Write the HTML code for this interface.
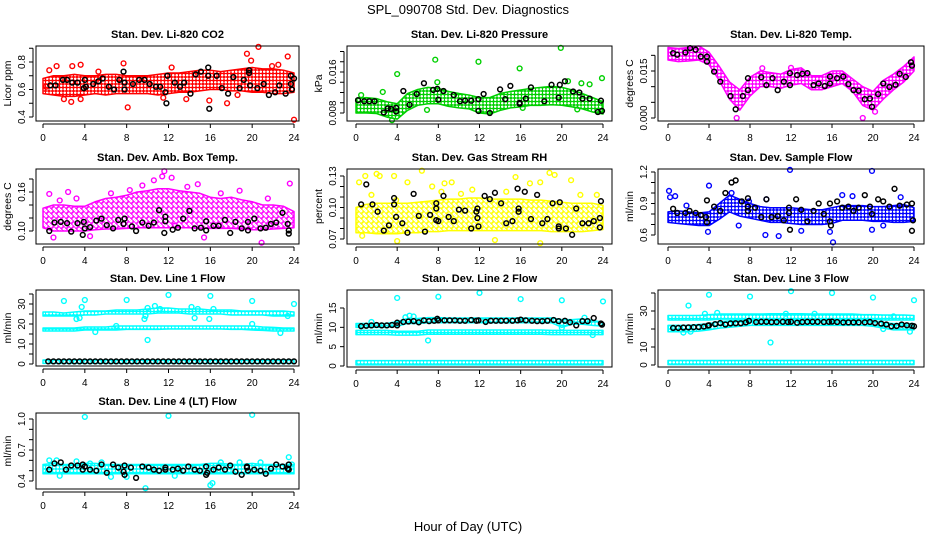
<!DOCTYPE html>
<html><head><meta charset="utf-8">
<style>
html,body{margin:0;padding:0;background:#fff;}
svg{display:block;font-family:"Liberation Sans",Arial,sans-serif;}
</style></head>
<body>
<svg id="chart" width="936" height="540" viewBox="0 0 936 540" xmlns="http://www.w3.org/2000/svg">
<defs id="defs"></defs>
<text x="468" y="14" text-anchor="middle" font-size="13">SPL_090708  Std. Dev. Diagnostics</text>
<text x="468" y="531" text-anchor="middle" font-size="13">Hour of Day (UTC)</text>
</svg>
<script>
// ---------- shared data ----------
const HOURS=[0,1,2,3,4,5,6,7,8,9,10,11,12,13,14,15,16,17,18,19,20,21,22,23,24];
const X_TICKS=[0,4,8,12,16,20,24];

// CO2
const co2Lo=[0.57,0.56,0.55,0.55,0.56,0.57,0.56,0.57,0.57,0.57,0.57,0.56,0.57,0.58,0.58,0.59,0.60,0.60,0.59,0.59,0.58,0.58,0.57,0.57,0.58];
const co2Hi=[0.68,0.70,0.70,0.71,0.70,0.70,0.71,0.71,0.70,0.70,0.70,0.71,0.72,0.72,0.73,0.74,0.74,0.73,0.74,0.75,0.76,0.75,0.75,0.74,0.72];
const co2OutX=[0.6,1.3,2.8,3.6,7.7,8.1,2.7,3.6,15.9,19.5,20.6,19.9,23.4,24,17.6,22.5,12.3,5.3,13.7,21.9,0.3,2.0,11.5,18.6];
const co2OutY=[0.74,0.77,0.77,0.78,0.79,0.47,0.51,0.53,0.52,0.86,0.91,0.81,0.84,0.38,0.50,0.78,0.76,0.73,0.53,0.77,0.62,0.53,0.54,0.56];
const co2BlkX=[0.7,1.2,1.9,2.3,2.8,3.3,3.9,4.0,4.1,4.8,5.3,5.7,6.3,6.8,7.3,7.7,7.8,7.8,8.6,9.2,9.7,10.2,10.8,11.2,11.7,11.8,11.9,12.6,13.1,13.5,14.1,14.6,15.1,15.8,15.8,15.9,16.6,17.1,17.7,18.2,18.8,19.2,19.7,19.7,19.8,20.5,21.1,21.6,22.2,22.6,23.2,23.7,23.7,23.8,24.0];
const co2BlkY=[0.63,0.63,0.67,0.67,0.65,0.65,0.61,0.67,0.62,0.64,0.66,0.68,0.62,0.60,0.67,0.73,0.65,0.60,0.64,0.67,0.67,0.64,0.62,0.62,0.58,0.50,0.70,0.65,0.62,0.65,0.57,0.71,0.73,0.76,0.70,0.46,0.70,0.61,0.57,0.69,0.61,0.67,0.74,0.72,0.63,0.61,0.64,0.56,0.58,0.63,0.57,0.70,0.64,0.60,0.68];

// Pressure
const presLo=[0.0080,0.0080,0.0079,0.0072,0.0068,0.0085,0.0095,0.0098,0.0098,0.0093,0.0090,0.0088,0.0080,0.0078,0.0085,0.0090,0.0092,0.0095,0.0095,0.0096,0.0095,0.0092,0.0088,0.0082,0.0078];
const presHi=[0.0108,0.0110,0.0108,0.0102,0.0098,0.0118,0.0126,0.0130,0.0128,0.0122,0.0118,0.0115,0.0110,0.0110,0.0118,0.0122,0.0125,0.0128,0.0130,0.0132,0.0130,0.0125,0.0118,0.0110,0.0102];
const presOutX=[7.7,11.9,4.0,15.9,19.9,23.9,2.6,7.9,0.5,3.5,6.9,20.6,21.9,22.7,16.2,21.5];
const presOutY=[0.0184,0.0180,0.0156,0.0167,0.0207,0.0148,0.0121,0.0140,0.0115,0.0066,0.0086,0.0142,0.0138,0.0136,0.0090,0.0087];
const presBlkX=[0.2,0.8,1.3,1.8,2.7,3.1,3.4,3.9,3.9,4.6,5.2,5.9,6.6,7.5,7.9,8.0,8.5,9.5,10.1,10.6,11.2,11.9,11.9,12.4,13.0,14.0,14.5,15.0,15.9,15.9,16.5,17.0,18.3,19.0,19.7,19.8,20.3,21.1,21.7,22.0,22.7,23.5,23.8,23.9];
const presBlkY=[0.0105,0.0103,0.0103,0.0103,0.0081,0.0089,0.0088,0.0090,0.0083,0.0123,0.0096,0.0117,0.0138,0.0125,0.0127,0.0106,0.0123,0.0115,0.0103,0.0104,0.0104,0.0107,0.0084,0.0117,0.0080,0.0126,0.0107,0.0133,0.0100,0.0098,0.0108,0.0130,0.0103,0.0135,0.0110,0.0135,0.0142,0.0122,0.0120,0.0108,0.0108,0.0082,0.0104,0.0084];

// Li-820 temperature
const tempLo=[0.0185,0.0180,0.0182,0.0185,0.0170,0.0120,0.0060,0.0025,0.0070,0.0100,0.0100,0.0095,0.0105,0.0110,0.0090,0.0090,0.0100,0.0110,0.0085,0.0040,0.0025,0.0060,0.0090,0.0115,0.0150];
const tempHi=[0.0225,0.0222,0.0225,0.0230,0.0210,0.0165,0.0115,0.0090,0.0130,0.0150,0.0145,0.0140,0.0155,0.0160,0.0135,0.0135,0.0150,0.0150,0.0125,0.0100,0.0085,0.0120,0.0140,0.0165,0.0195];
const tempOutX=[6.7,19.0,9.2,20.2,12.0];
const tempOutY=[0.0000,0.0000,0.0159,0.0020,0.0160];
const tempBlkX=[0.5,0.9,1.7,2.15,2.7,3.2,3.8,3.8,4.5,5.1,6.1,6.6,7.3,7.8,7.8,9.1,9.6,10.2,10.7,11.3,11.9,11.9,12.6,13.1,13.6,14.2,14.7,15.3,15.8,15.8,16.5,17.1,17.6,18.1,18.6,19.2,19.7,19.9,20.5,21.0,21.6,22.2,22.6,23.2,23.7,23.8];
const tempBlkY=[0.0207,0.0202,0.0209,0.0223,0.0218,0.0196,0.0196,0.0180,0.0148,0.0116,0.0070,0.0028,0.0070,0.0127,0.0089,0.0130,0.0105,0.0127,0.0089,0.0116,0.0143,0.0105,0.0137,0.0141,0.0143,0.0105,0.0110,0.0102,0.0132,0.0110,0.0127,0.0132,0.0108,0.0089,0.0087,0.0060,0.0062,0.0036,0.0076,0.0110,0.0099,0.0106,0.0141,0.0131,0.0178,0.0167];

// Ambient box temperature
const ambLo=[0.105,0.100,0.100,0.100,0.100,0.102,0.103,0.103,0.104,0.105,0.105,0.105,0.105,0.105,0.105,0.104,0.104,0.104,0.104,0.103,0.102,0.102,0.103,0.104,0.105];
const ambHi=[0.135,0.140,0.140,0.138,0.138,0.145,0.150,0.152,0.155,0.160,0.162,0.165,0.165,0.162,0.160,0.158,0.152,0.150,0.152,0.148,0.145,0.140,0.140,0.138,0.130];
const ambOutX=[0.6,2.4,1.6,8.3,9.5,10.6,11.4,11.6,12.3,14.8,18.8,23.6,20.9,15.4,1.0,4.5,12.6,3.2,6.5,17.0,21.5,13.8];
const ambOutY=[0.157,0.160,0.147,0.163,0.170,0.178,0.184,0.192,0.182,0.172,0.162,0.173,0.082,0.090,0.090,0.092,0.108,0.150,0.158,0.158,0.150,0.168];
const ambBlkX=[0.6,1.1,1.7,2.3,2.7,3.3,3.9,3.8,4.0,4.5,5.1,5.6,6.1,6.7,7.2,7.7,7.8,8.5,8.9,9.5,10.1,10.6,11.1,11.7,11.6,11.7,12.4,12.9,13.4,14.0,14.5,15.1,15.6,15.6,16.3,16.8,17.4,17.9,18.4,19.0,19.6,19.6,20.2,20.8,21.3,21.8,22.3,22.9,23.4,23.5,23.5];
const ambBlkY=[0.100,0.113,0.114,0.112,0.099,0.112,0.114,0.094,0.104,0.106,0.116,0.119,0.109,0.104,0.117,0.111,0.119,0.107,0.100,0.113,0.108,0.113,0.132,0.122,0.097,0.115,0.102,0.105,0.119,0.131,0.104,0.105,0.115,0.101,0.108,0.108,0.117,0.097,0.114,0.104,0.114,0.101,0.119,0.104,0.105,0.111,0.113,0.128,0.111,0.101,0.096];

// Gas stream RH
const rhLo=[0.076,0.076,0.075,0.075,0.075,0.076,0.076,0.077,0.077,0.078,0.078,0.078,0.078,0.078,0.078,0.078,0.078,0.078,0.078,0.077,0.077,0.077,0.077,0.078,0.079];
const rhHi=[0.100,0.103,0.104,0.104,0.104,0.104,0.105,0.106,0.107,0.108,0.108,0.109,0.109,0.108,0.108,0.108,0.108,0.107,0.107,0.106,0.105,0.104,0.104,0.104,0.102];
const rhOutX=[0.3,0.9,2.0,2.3,3.7,6.4,5.0,8.6,9.3,7.4,17.9,18.8,19.3,20.9,15.5,16.9,23.4,4.0,13.5,17.9,0.6,3.9,11.3,8.3,1.5,10.2,14.6,21.8];
const rhOutY=[0.124,0.130,0.132,0.130,0.130,0.135,0.124,0.123,0.124,0.120,0.124,0.133,0.131,0.126,0.129,0.123,0.112,0.068,0.069,0.066,0.073,0.107,0.117,0.115,0.112,0.113,0.115,0.112];
const rhBlkX=[1.0,0.5,1.6,2.1,2.7,3.2,3.7,3.7,3.9,4.5,5.0,5.6,6.1,6.7,7.2,7.8,7.8,7.8,8.0,8.5,9.0,9.5,10.0,10.6,11.2,11.7,11.8,11.8,11.9,12.5,13.0,13.5,14.1,14.6,15.2,15.7,15.8,15.8,16.4,17.0,17.6,18.1,18.6,19.1,19.7,19.7,19.8,20.4,21.0,21.4,22.0,22.6,23.1,23.7,23.7,23.8];
const rhBlkY=[0.122,0.103,0.103,0.096,0.078,0.083,0.109,0.103,0.091,0.085,0.076,0.113,0.092,0.077,0.093,0.104,0.099,0.088,0.087,0.111,0.091,0.087,0.098,0.097,0.080,0.096,0.099,0.090,0.082,0.111,0.108,0.114,0.104,0.085,0.087,0.118,0.099,0.096,0.115,0.089,0.112,0.085,0.089,0.104,0.082,0.080,0.105,0.080,0.074,0.099,0.085,0.085,0.087,0.081,0.090,0.106];

// Sample flow
const sfLo=[0.72,0.71,0.70,0.69,0.69,0.75,0.82,0.78,0.76,0.74,0.72,0.72,0.71,0.70,0.70,0.70,0.71,0.74,0.74,0.74,0.73,0.73,0.72,0.72,0.73];
const sfHi=[0.82,0.83,0.82,0.81,0.82,0.90,0.98,0.94,0.90,0.87,0.86,0.86,0.86,0.85,0.84,0.84,0.86,0.88,0.88,0.88,0.87,0.87,0.88,0.89,0.86];
const sfOutX=[0.1,0.2,0.7,1.8,4.0,7.9,9.6,11.9,19.9,17.0,18.0,16.1,9.5,10.8,15.8,19.9,22.7,6.9,6.2,3.9,13.0,21.0];
const sfOutY=[1.02,0.96,0.97,0.88,1.07,0.92,0.94,1.22,1.21,0.98,0.97,0.53,0.60,0.59,0.63,0.65,0.96,0.69,1.00,0.63,0.64,0.69];
const sfBlkX=[0.5,0.9,1.7,2.1,2.7,3.2,3.7,3.8,3.8,4.5,5.1,5.6,6.2,6.6,7.2,7.8,7.8,7.8,8.5,9.1,9.6,10.1,10.7,11.3,11.8,11.8,11.9,12.5,13.0,13.6,14.2,14.7,15.2,15.8,15.8,15.9,16.5,17.0,17.6,18.1,18.6,19.2,19.7,19.9,20.5,21.0,21.6,22.1,22.6,23.3,23.8,23.9,23.8];
const sfBlkY=[0.85,0.81,0.81,0.83,0.81,0.79,0.77,0.72,0.93,0.87,0.83,1.00,1.10,1.12,0.92,0.95,0.87,0.83,0.86,0.77,0.94,0.77,0.78,0.74,0.86,0.81,0.65,0.94,0.84,0.73,0.83,0.90,0.80,0.73,0.90,0.69,0.92,0.86,0.87,0.83,0.86,0.98,0.87,0.80,0.94,0.92,0.87,1.04,0.88,0.89,0.90,0.74,0.64];

// Line 1 flow
const l1TopLo=[24,24,24,24,24.5,24.5,25,25,25,25,25,25.5,25.5,25.5,25,25,25,25,24.5,24.5,24.5,24.5,24,24,24];
const l1TopHi=[26,26,25.5,26,26.5,26.5,26.5,27,27,27,27.5,28,28,27.5,27.5,27.5,27,27,27,26.5,26.5,26.5,26.5,26.5,26];
const l1MidLo=[16.5,16.5,16.5,16.5,17,17,17,17,17.3,17.3,17.3,17.3,17.5,17.5,17.5,17.5,17.5,17.5,17.3,17.3,17,16.8,16.5,16.5,16.5];
const l1MidHi=[18,18,18,18,18.5,18.5,18.5,19,19,19,19,19,19,19,19,19,19,19,19,19,19,18.5,18.3,18,18];
const l1BotLo=[0.3,0.3,0.3,0.3,0.3,0.3,0.3,0.3,0.3,0.3,0.3,0.3,0.3,0.3,0.3,0.3,0.3,0.3,0.3,0.3,0.3,0.3,0.3,0.3,0.3];
const l1BotHi=[2,2,2,2,2,2,2,2,2,2,2,2,2,2,2,2,2,2,2,2,2,2,2,2,2];
const l1OutX=[2.0,4.0,8.0,12.0,16.0,20.0,24.0,3.2,3.5,3.7,9.7,10.0,10.0,10.7,14.5,15.9,16.3,20.0,22.7,5.0,7.0,23.4,9.8,11.2,14.2,14.8];
const l1OutY=[31.5,32,32,34.5,34,31.5,30,22.5,23,28.5,22.5,28,12,29,23,22.5,27.5,20,15.5,16,19,24,24,27.5,28.5,27.5];
const l1BlkX=[0.5,1.0,1.5,2.0,2.5,3.0,3.5,4.0,4.5,5.0,5.5,6.0,6.5,7.0,7.5,8.0,8.5,9.0,9.5,10.0,10.5,11.0,11.5,12.0,12.5,13.0,13.5,14.0,14.5,15.0,15.5,16.0,16.5,17.0,17.5,18.0,18.5,19.0,19.5,20.0,20.5,21.0,21.5,22.0,22.5,23.0,23.5,24.0];
const l1BlkY=[1.3,1.3,1.3,1.3,1.3,1.3,1.3,1.3,1.3,1.3,1.3,1.3,1.3,1.3,1.3,1.3,1.3,1.3,1.3,1.3,1.3,1.3,1.3,1.3,1.3,1.3,1.3,1.3,1.3,1.3,1.3,1.3,1.3,1.3,1.3,1.3,1.3,1.3,1.3,1.3,1.3,1.3,1.3,1.3,1.3,1.3,1.3,1.3];

// Line 2 flow
const l2TopLo=[10,10,10,10,10.3,11,11,11.2,11.2,11.2,11.2,11.2,11.2,11.2,11.2,11.2,11.2,11.2,11.2,11.2,10,10.8,10.8,10.5,10.3];
const l2TopHi=[11,11,11,11,11.5,12.3,12.3,12.5,12.5,12.4,12.4,12.4,12.4,12.4,12.4,12.4,12.4,12.4,12.4,12.4,12,12,12.2,11.8,11.3];
const l2MidLo=[8.1,8.1,8.1,8.1,8.0,8.0,8.0,8.2,8.2,8.2,8.2,8.2,8.2,8.2,8.2,8.2,8.2,8.2,8.2,8.1,8.1,8.1,8.1,8.1,8.1];
const l2MidHi=[9.2,9.2,9.2,9.2,9.0,9.0,9.0,9.3,9.3,9.3,9.3,9.3,9.3,9.3,9.3,9.3,9.3,9.3,9.3,9.2,9.2,9.2,9.2,9.2,9.2];
const l2BotLo=[0.3,0.3,0.3,0.3,0.3,0.3,0.3,0.3,0.3,0.3,0.3,0.3,0.3,0.3,0.3,0.3,0.3,0.3,0.3,0.3,0.3,0.3,0.3,0.3,0.3];
const l2BotHi=[1.4,1.4,1.4,1.4,1.4,1.4,1.4,1.4,1.4,1.4,1.4,1.4,1.4,1.4,1.4,1.4,1.4,1.4,1.4,1.4,1.4,1.4,1.4,1.4,1.4];
const l2OutX=[4.0,8.0,12.0,16.0,20.0,24.0,7.0,5.2,4.8,22.2,20.0,23.0,5.6,1.5];
const l2OutY=[17.6,17.9,18.9,17.3,17.0,16.7,6.6,13.0,12.6,12.5,9.9,8.0,12.8,11.4];
const l2BlkX=[0.5,1.0,1.5,2.0,2.5,3.0,3.5,4.0,4.0,4.6,5.1,5.6,6.1,6.6,7.1,7.6,7.9,8.0,8.6,9.1,9.6,10.1,10.6,11.2,11.7,11.9,12.6,13.1,13.6,14.1,14.6,15.2,15.7,16.0,16.5,17.1,17.6,18.1,18.6,19.2,19.7,20.3,20.8,21.4,22.0,22.5,23.1,23.8,23.9];
const l2BlkY=[10.3,10.4,10.5,10.6,10.5,10.5,10.6,11.2,10.5,11.4,11.5,11.6,11.3,11.8,11.6,11.7,12.2,11.8,11.8,11.8,11.8,11.7,11.7,11.9,11.7,11.8,11.4,11.7,11.7,11.7,11.7,11.7,11.8,12.0,11.8,11.7,11.6,11.6,11.7,11.9,11.6,11.7,11.3,10.5,11.6,11.6,12.4,11.0,10.7];

// Line 3 flow
const l3TopLo=[25,25,25,25,25,25.5,25.5,25.5,25.5,25.5,25.5,25.5,25.5,25.5,25.5,25.5,25.5,25.5,25.5,25.5,25.5,25,25,25,25];
const l3TopHi=[27.5,27.5,27.5,27.5,28,28.3,28.3,28.3,28.3,28.3,28.5,28.5,28.5,28.5,28.3,28.3,28.3,28.3,28.3,28,28,27.8,27.8,27.8,27.5];
const l3MidLo=[18.5,18.5,18.5,18.8,19.5,20.5,21,21.5,22,22,22,22,22,22,22,22,22,22,22,22,21.5,20.5,19.5,19.5,19.5];
const l3MidHi=[22,22,22,22.5,23,24,24.5,25,25,25,25,25,25,25,25,25,25,25,25,25,24.5,23.5,23,23,23];
const l3BotLo=[0.2,0.2,0.2,0.2,0.2,0.2,0.2,0.2,0.2,0.2,0.2,0.2,0.2,0.2,0.2,0.2,0.2,0.2,0.2,0.2,0.2,0.2,0.2,0.2,0.2];
const l3BotHi=[2.5,2.5,2.5,2.5,2.5,2.5,2.5,2.5,2.5,2.5,2.5,2.5,2.5,2.5,2.5,2.5,2.5,2.5,2.5,2.5,2.5,2.5,2.5,2.5,2.5];
const l3OutX=[2,4,8,12,16,20,24,3.6,10,0.5,1.5,2.2,23.6,21,22,11.5,14.3,4.8];
const l3OutY=[33,39,38,41,40,37.5,36,28.5,12.5,20,18,18.5,18.5,20,27,28.5,28.5,29];
const l3BlkX=[0.5,1.0,1.5,2.0,2.5,3.0,3.5,3.9,4.0,4.6,5.1,5.6,6.1,6.6,7.1,7.6,7.9,8.6,9.1,9.6,10.1,10.6,11.2,11.7,12.0,12.6,13.1,13.6,14.1,14.6,15.2,15.7,16.0,16.5,17.1,17.6,18.1,18.6,19.2,19.7,20.2,20.8,21.3,21.8,22.3,22.8,23.3,23.8,24.0];
const l3BlkY=[20.6,20.6,20.8,20.9,21.0,21.1,21.4,21.9,22.1,22.7,23.3,22.5,23.1,23.2,23.2,23.7,24.5,23.8,24.0,24.0,23.8,23.9,24.0,23.9,24.0,23.5,23.9,24.0,24.0,24.0,23.9,24.0,24.1,23.9,23.7,23.7,23.7,23.7,23.7,23.9,23.3,23.0,22.5,21.5,21.7,22.5,22.1,21.8,21.5];

// Line 4 (LT) flow
const l4Lo=[0.47,0.47,0.47,0.47,0.47,0.47,0.47,0.47,0.47,0.47,0.47,0.47,0.47,0.47,0.47,0.47,0.47,0.47,0.47,0.47,0.47,0.47,0.47,0.47,0.47];
const l4Hi=[0.56,0.57,0.56,0.56,0.57,0.57,0.56,0.56,0.56,0.56,0.56,0.56,0.56,0.56,0.56,0.56,0.57,0.57,0.56,0.56,0.57,0.56,0.56,0.56,0.56];
const l4OutX=[4.0,12.0,20.0,23.5,0.6,1.3,3.2,9.8,16.0,16.2,6.5,18.8,20.8,4.5,5.6,23.8,1.6,8.0,12.6,17.0];
const l4OutY=[1.02,1.03,1.04,0.63,0.60,0.60,0.59,0.33,0.36,0.38,0.44,0.58,0.58,0.57,0.58,0.56,0.45,0.44,0.45,0.58];
const l4BlkX=[0.6,1.1,1.7,2.2,2.7,3.3,3.8,3.8,4.0,4.5,5.1,5.6,6.1,6.7,7.2,7.7,7.8,7.8,8.4,8.9,9.5,10.1,10.6,11.1,11.7,11.7,12.4,12.9,13.4,13.9,14.5,15.0,15.6,15.6,15.7,16.3,16.8,17.4,17.9,18.4,19.0,19.5,19.5,19.6,20.2,20.8,21.3,21.8,22.3,22.9,23.4,23.5,23.5];
const l4BlkY=[0.51,0.57,0.58,0.51,0.55,0.55,0.56,0.51,0.54,0.51,0.50,0.56,0.48,0.56,0.53,0.49,0.46,0.55,0.53,0.43,0.54,0.53,0.51,0.50,0.51,0.53,0.51,0.52,0.50,0.54,0.51,0.50,0.46,0.54,0.48,0.51,0.53,0.51,0.55,0.49,0.46,0.53,0.54,0.50,0.51,0.50,0.47,0.52,0.56,0.54,0.52,0.51,0.56];

// ---------- panel layout (pixel geometry) ----------
const panels=[
 {id:'co2',title:'Stan. Dev. Li-820 CO2',ylab:'Licor ppm',box:[36,299,46,121],xp:[43,294],yv:[0.4,0.8],yp:[117,62],ticks:[0.4,0.5,0.6,0.7,0.8,0.9],labs:['0.4',null,'0.6',null,'0.8',null],color:'#ff0000',dense:true,
  bands:[[co2Lo,co2Hi]],outX:co2OutX,outY:co2OutY,blkX:co2BlkX,blkY:co2BlkY},
 {id:'pressure',title:'Stan. Dev. Li-820 Pressure',ylab:'kPa',box:[347,612,46,121],xp:[356,603],yv:[0.008,0.016],yp:[113,72],ticks:[0.008,0.010,0.012,0.014,0.016,0.018,0.020],labs:['0.008',null,null,null,'0.016',null,null],color:'#00d000',dense:true,
  bands:[[presLo,presHi]],outX:presOutX,outY:presOutY,blkX:presBlkX,blkY:presBlkY},
 {id:'li820-temp',title:'Stan. Dev. Li-820 Temp.',ylab:'degrees C',box:[658,924,46,121],xp:[668,914],yv:[0,0.015],yp:[118,71],ticks:[0,0.005,0.010,0.015,0.020],labs:['0.000',null,null,'0.015',null],color:'#ff00ff',dense:true,
  bands:[[tempLo,tempHi]],outX:tempOutX,outY:tempOutY,blkX:tempBlkX,blkY:tempBlkY},
 {id:'amb-box-temp',title:'Stan. Dev. Amb. Box Temp.',ylab:'degrees C',box:[36,299,169,244],xp:[43,294],yv:[0.10,0.16],yp:[231,192],ticks:[0.10,0.12,0.14,0.16,0.18],labs:['0.10',null,null,'0.16',null],color:'#ff00ff',dense:false,
  bands:[[ambLo,ambHi]],outX:ambOutX,outY:ambOutY,blkX:ambBlkX,blkY:ambBlkY},
 {id:'gas-rh',title:'Stan. Dev. Gas Stream RH',ylab:'percent',box:[347,612,169,244],xp:[356,603],yv:[0.07,0.13],yp:[239,176],ticks:[0.07,0.08,0.09,0.10,0.11,0.12,0.13],labs:['0.07',null,null,'0.10',null,null,'0.13'],color:'#ffff00',dense:false,
  bands:[[rhLo,rhHi]],outX:rhOutX,outY:rhOutY,blkX:rhBlkX,blkY:rhBlkY},
 {id:'sample-flow',title:'Stan. Dev. Sample Flow',ylab:'ml/min',box:[658,924,169,244],xp:[668,914],yv:[0.6,1.2],yp:[235,172],ticks:[0.6,0.7,0.8,0.9,1.0,1.1,1.2],labs:['0.6',null,null,'0.9',null,null,'1.2'],color:'#0000ff',dense:true,
  bands:[[sfLo,sfHi]],outX:sfOutX,outY:sfOutY,blkX:sfBlkX,blkY:sfBlkY},
 {id:'line1-flow',title:'Stan. Dev. Line 1 Flow',ylab:'ml/min',box:[36,299,290,366],xp:[43,294],yv:[0,30],yp:[364,304],ticks:[0,5,10,15,20,25,30,35],labs:['0',null,'10',null,'20',null,'30',null],color:'#00ffff',dense:true,
  bands:[[l1TopLo,l1TopHi],[l1MidLo,l1MidHi],[l1BotLo,l1BotHi]],outX:l1OutX,outY:l1OutY,blkX:l1BlkX,blkY:l1BlkY},
 {id:'line2-flow',title:'Stan. Dev. Line 2 Flow',ylab:'ml/min',box:[347,612,290,367],xp:[356,603],yv:[0,15],yp:[366,308],ticks:[0,5,10,15],labs:['0','5','10','15'],color:'#00ffff',dense:true,
  bands:[[l2TopLo,l2TopHi],[l2MidLo,l2MidHi],[l2BotLo,l2BotHi]],outX:l2OutX,outY:l2OutY,blkX:l2BlkX,blkY:l2BlkY},
 {id:'line3-flow',title:'Stan. Dev. Line 3 Flow',ylab:'ml/min',box:[658,924,290,367],xp:[668,914],yv:[0,30],yp:[365,311],ticks:[0,10,20,30,40],labs:['0','10',null,'30',null],color:'#00ffff',dense:true,
  bands:[[l3TopLo,l3TopHi],[l3MidLo,l3MidHi],[l3BotLo,l3BotHi]],outX:l3OutX,outY:l3OutY,blkX:l3BlkX,blkY:l3BlkY},
 {id:'line4-flow',title:'Stan. Dev. Line 4 (LT) Flow',ylab:'ml/min',box:[36,299,413,489],xp:[43,294],yv:[0.4,1.0],yp:[481,419],ticks:[0.4,0.5,0.6,0.7,0.8,0.9,1.0],labs:['0.4',null,null,'0.7',null,null,'1.0'],color:'#00ffff',dense:true,
  bands:[[l4Lo,l4Hi]],outX:l4OutX,outY:l4OutY,blkX:l4BlkX,blkY:l4BlkY}
];

const NS='http://www.w3.org/2000/svg';
const svg=document.getElementById('chart');
const defs=document.getElementById('defs');
function mk(tag,attrs,parent){const e=document.createElementNS(NS,tag);for(const k in attrs)e.setAttribute(k,attrs[k]);(parent||svg).appendChild(e);return e;}

panels.forEach(p=>{
  const [bx0,bx1,by0,by1]=p.box;
  const xs=h=>p.xp[0]+(h-0)*(p.xp[1]-p.xp[0])/24;
  const ys=v=>p.yp[0]+(v-p.yv[0])*(p.yp[1]-p.yp[0])/(p.yv[1]-p.yv[0]);
  const g=mk('g',{});
  
  

  const pat=mk('pattern',{id:'pat-'+p.id,patternUnits:'userSpaceOnUse',width:p.dense?3.5:5,height:p.dense?3.5:5},defs);
  if(p.dense){
    mk('circle',{cx:1.75,cy:1.75,r:2,fill:'none',stroke:p.color,'stroke-width':1.4},pat);
  }else{
    mk('circle',{cx:1.25,cy:1.25,r:2,fill:'none',stroke:p.color,'stroke-width':1.3},pat);
    mk('circle',{cx:3.75,cy:3.75,r:2,fill:'none',stroke:p.color,'stroke-width':1.3},pat);
  }

  const t=mk('text',{x:(bx0+bx1)/2,y:by0-8,'text-anchor':'middle','font-size':11,'font-weight':'bold'},g);
  t.textContent=p.title;
  
  

  p.bands.forEach((b,bi)=>{
    const lo=b[0],hi=b[1];
    let pts=[];
    HOURS.forEach((h,i)=>pts.push(xs(h)+','+ys(hi[i])));
    for(let i=HOURS.length-1;i>=0;i--)pts.push(xs(HOURS[i])+','+ys(lo[i]));
    const poly=mk('polygon',{points:pts.join(' '),fill:'url(#pat-'+p.id+')',stroke:p.color,'stroke-width':1.5,'stroke-linejoin':'round'},g);
    
    
  });

  p.outX.forEach((h,i)=>{
    const c=mk('circle',{cx:xs(h),cy:ys(p.outY[i]),r:2.4,fill:'none',stroke:p.color,'stroke-width':1.4},g);
    
    
  });
  p.blkX.forEach((h,i)=>{
    const c=mk('circle',{cx:xs(h),cy:ys(p.blkY[i]),r:2.4,fill:'none',stroke:'#000','stroke-width':1.5},g);
    
    
  });

  const r=mk('rect',{x:bx0,y:by0,width:bx1-bx0,height:by1-by0,fill:'none',stroke:'#000','stroke-width':1},g);
  
  

  const ax=mk('line',{x1:xs(0),x2:xs(24),y1:by1+3,y2:by1+3,stroke:'#000','stroke-width':1},g);
  
  
  X_TICKS.forEach(h=>{
    mk('line',{x1:xs(h),x2:xs(h),y1:by1+3,y2:by1+7,stroke:'#000','stroke-width':1},g);
    const tl=mk('text',{x:xs(h),y:by1+20,'text-anchor':'middle','font-size':10},g);
    tl.textContent=h;
    
    
  });

  const ay=mk('line',{x1:bx0-3,x2:bx0-3,y1:ys(p.ticks[0]),y2:ys(p.ticks[p.ticks.length-1]),stroke:'#000','stroke-width':1},g);
  
  
  p.ticks.forEach((v,i)=>{
    const y=ys(v);
    mk('line',{x1:bx0-3,x2:bx0-7,y1:y,y2:y,stroke:'#000','stroke-width':1},g);
    if(p.labs[i]){
      const tl=mk('text',{x:0,y:0,'text-anchor':'middle','font-size':10,transform:'translate('+(bx0-11)+','+y+') rotate(-90)'},g);
      tl.textContent=p.labs[i];
      
      
    }
  });
  const yl=mk('text',{x:0,y:0,'text-anchor':'middle','font-size':10.5,transform:'translate('+(bx0-25)+','+((by0+by1)/2)+') rotate(-90)'},g);
  yl.textContent=p.ylab;
  
  
});
</script>
</body></html>
